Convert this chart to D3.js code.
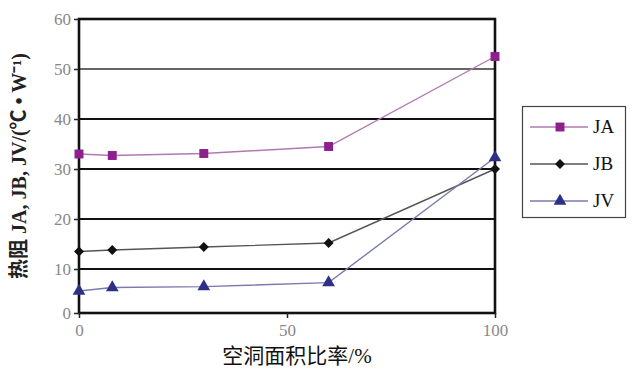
<!DOCTYPE html>
<html><head><meta charset="utf-8">
<script src="https://cdn.jsdelivr.net/npm/d3@7"></script>
<style>body{margin:0;background:#fff}svg{display:block}</style>
</head><body>
<svg id="c" width="640" height="379"></svg>
<script>
const xValues = [0, 8, 30, 60, 100];
const seriesNames = ["JA", "JB", "JV"];
const JA = [33, 32.7, 33.1, 34.5, 52.5];
const JB = [13.5, 13.8, 14.4, 15.2, 30];
const JV = [5, 5.8, 6.0, 6.9, 32.3];
const yTicks = [0, 10, 20, 30, 40, 50, 60];
const xTicks = [0, 50, 100];
const xLabel = "空洞面积比率/%";
const yLabel = "热阻 JA, JB, JV/(℃ • W⁻¹)";

const svg = d3.select("#c");
const x = d3.scaleLinear().domain([0, 100]).range([79, 495]);
const y = d3.scaleLinear().domain([0, 10, 60]).range([313, 269, 19]);

const serif = "'Liberation Serif','DejaVu Serif',serif";
const cjk = "'Liberation Serif','Noto Sans CJK SC',serif";

// gridlines
svg.append("g").selectAll("line").data(yTicks.filter(d => d > 0 && d < 60)).join("line")
  .attr("x1", x(0)).attr("x2", x(100)).attr("y1", d => y(d)).attr("y2", d => y(d))
  .attr("stroke", d => d === 50 ? "#333" : "#111").attr("stroke-width", d => d === 50 ? 1.6 : 2.2);

// frame
svg.append("rect").attr("x", x(0)).attr("y", y(60)).attr("width", x(100) - x(0)).attr("height", y(0) - y(60))
  .attr("fill", "none").attr("stroke", "#111").attr("stroke-width", 2.6);

// axes
const yAxis = d3.axisLeft(y).tickValues(yTicks).tickSize(5).tickPadding(3);
const gy = svg.append("g").attr("transform", `translate(${x(0)},0)`).call(yAxis);
gy.select(".domain").remove();
gy.selectAll(".tick line").attr("stroke", "#222").attr("stroke-width", 1.5);
gy.selectAll(".tick text").attr("fill", "#888").attr("font-family", serif).attr("font-size", 17);

const xAxis = d3.axisBottom(x).tickValues(xTicks).tickSize(5).tickPadding(6);
const gx = svg.append("g").attr("transform", `translate(0,${y(0)})`).call(xAxis);
gx.select(".domain").remove();
gx.selectAll(".tick line").attr("stroke", "#222").attr("stroke-width", 1.5);
gx.selectAll(".tick text").attr("fill", "#888").attr("font-family", serif).attr("font-size", 17);
gy.attr("font-family", serif).attr("font-size", 17);
gx.attr("font-family", serif).attr("font-size", 17);

// labels
svg.append("text").attr("x", 297).attr("y", 363).attr("text-anchor", "middle")
  .style("font-family", cjk).style("font-size", "21px").attr("fill", "#111").text(xLabel);
svg.append("text").attr("transform", "translate(26,166) rotate(-90)").attr("text-anchor", "middle")
  .style("font-family", cjk).style("font-size", "20px").style("font-weight", "bold").attr("fill", "#222").text(yLabel);

const styles = {
  JA: {line: "#b07ab0", fill: "#8e1f8e", shape: d3.symbolSquare, size: 80, rot: 0},
  JB: {line: "#555", fill: "#111", shape: d3.symbolSquare, size: 50, rot: 45},
  JV: {line: "#7a7ab0", fill: "#2e3088", shape: d3.symbolTriangle, size: 70, rot: 0}
};
const data = {JA, JB, JV};
const line = d3.line().x((d, i) => x(xValues[i])).y(d => y(d));

seriesNames.forEach(name => {
  const s = styles[name];
  svg.append("path").datum(data[name]).attr("d", line).attr("fill", "none")
    .attr("stroke", s.line).attr("stroke-width", 1.4);
});
seriesNames.forEach(name => {
  const s = styles[name];
  svg.append("g").selectAll("path").data(data[name]).join("path")
    .attr("d", d3.symbol().type(s.shape).size(s.size))
    .attr("transform", (d, i) => `translate(${x(xValues[i])},${y(d)}) rotate(${s.rot})`)
    .attr("fill", s.fill);
});

// legend
const lg = svg.append("g");
lg.append("rect").attr("x", 522.5).attr("y", 106.5).attr("width", 103).attr("height", 111)
  .attr("fill", "#fff").attr("stroke", "#444").attr("stroke-width", 1.2);
seriesNames.forEach((name, i) => {
  const s = styles[name];
  const yy = 127 + i * 37;
  lg.append("line").attr("x1", 530).attr("x2", 588).attr("y1", yy).attr("y2", yy)
    .attr("stroke", s.line).attr("stroke-width", 1.4);
  lg.append("path").attr("d", d3.symbol().type(s.shape).size(s.size)())
    .attr("transform", `translate(560,${yy}) rotate(${s.rot})`).attr("fill", s.fill);
  lg.append("text").attr("x", 593).attr("y", yy + 6).style("font-family", serif).style("font-size", "19px")
    .attr("fill", "#111").text(name);
});
</script>
</body></html>
